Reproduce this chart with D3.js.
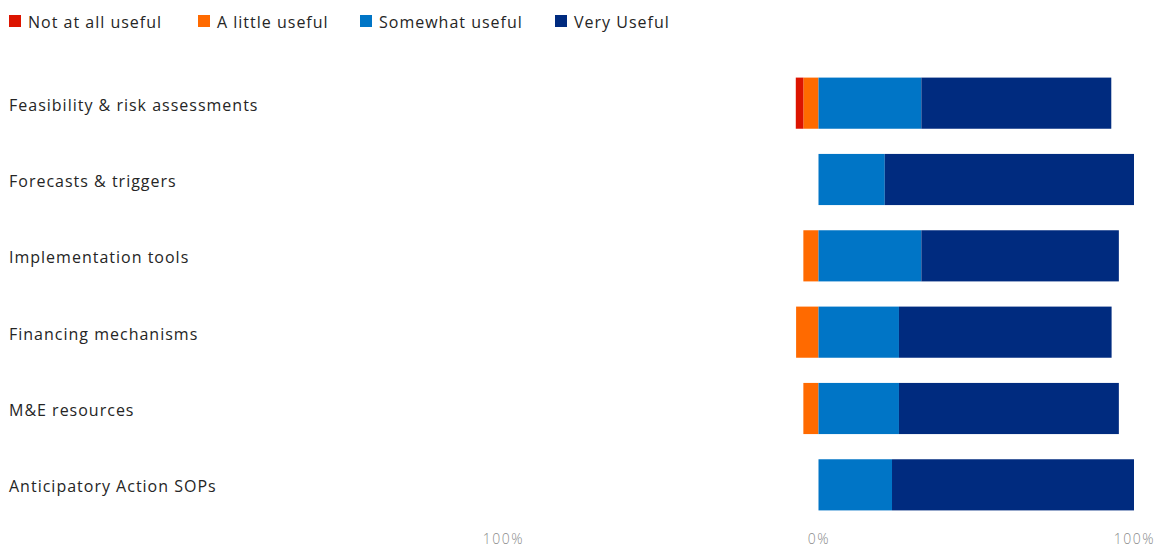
<!DOCTYPE html>
<html>
<head>
<meta charset="utf-8">
<script src="https://cdn.jsdelivr.net/npm/d3@7"></script>
<style>
  html, body { margin: 0; padding: 0; background: #fff; }
  svg { display: block; font-family: "Open Sans", "Noto Sans", sans-serif; }
</style>
</head>
<body>
<svg id="chart" width="1165" height="550"></svg>
<script>
// Survey: how useful each resource type is (share of respondents, %)
const categories = [
  "Feasibility & risk assessments",
  "Forecasts & triggers",
  "Implementation tools",
  "Financing mechanisms",
  "M&E resources",
  "Anticipatory Action SOPs"
];
const seriesNames = ["Not at all useful", "A little useful", "Somewhat useful", "Very Useful"];
const notAtAllUseful = [2.4, 0, 0, 0, 0, 0];
const aLittleUseful  = [4.8, 0, 4.8, 7.1, 4.8, 0];
const somewhatUseful = [32.6, 21.0, 32.6, 25.5, 25.5, 23.3];
const veryUseful     = [60.2, 79.0, 62.6, 67.4, 69.7, 76.7];
const tickValues = [-100, 0, 100];
const tickLabels = ["100%", "0%", "100%"];

const colors = ["#dc1400", "#ff6a00", "#0075c6", "#002b7f"];

const svg = d3.select("#chart");

const x = d3.scaleLinear().domain([-100, 100]).range([503, 1134]);
const y = d3.scaleBand().domain(categories).range([65, 523]).paddingInner(0.33).paddingOuter(0.165);

// Negative side stacks leftwards from zero, positive side rightwards
const rows = categories.map((c, i) => {
  const segs = [];
  let left = -aLittleUseful[i];
  segs.push({ key: 1, x0: left, x1: 0 });
  segs.push({ key: 0, x0: left - notAtAllUseful[i], x1: left });
  segs.push({ key: 2, x0: 0, x1: somewhatUseful[i] });
  segs.push({ key: 3, x0: somewhatUseful[i], x1: somewhatUseful[i] + veryUseful[i] });
  return { cat: c, segs: segs.filter(s => s.x1 - s.x0 > 0) };
});

const rowG = svg.append("g").selectAll("g").data(rows).join("g");
rowG.selectAll("rect")
  .data(d => d.segs.map(s => ({ ...s, cat: d.cat })))
  .join("rect")
  .attr("x", d => x(d.x0))
  .attr("y", d => y(d.cat))
  .attr("width", d => x(d.x1) - x(d.x0))
  .attr("height", y.bandwidth())
  .attr("fill", d => colors[d.key]);

// Category labels
svg.append("g").selectAll("text").data(categories).join("text")
  .attr("x", 9)
  .attr("y", d => y(d) + y.bandwidth() / 2 + 2)
  .attr("dy", "0.35em")
  .attr("font-size", 16)
  .attr("letter-spacing", 1)
  .attr("fill", "#252525")
  .text(d => d);

// Bottom axis labels
const axis = d3.axisBottom(x).tickValues(tickValues)
  .tickFormat((d, i) => tickLabels[i]).tickSize(0).tickPadding(0);
const axisG = svg.append("g").attr("transform", "translate(0,534)").call(axis);
axisG.select(".domain").remove();
axisG.selectAll("text")
  .attr("font-family", "\"Open Sans\", \"Noto Sans\", sans-serif")
  .attr("font-size", 14)
  .attr("font-weight", 300)
  .attr("letter-spacing", 1.5)
  .attr("fill", "#8a8a8a");

// Legend
const legendX = [9, 198, 360, 555];
const lg = svg.append("g").selectAll("g").data(seriesNames).join("g")
  .attr("transform", (d, i) => `translate(${legendX[i]},15)`);
lg.append("rect").attr("width", 12).attr("height", 12).attr("fill", (d, i) => colors[i]);
lg.append("text").attr("x", 19).attr("y", 7).attr("dy", "0.35em")
  .attr("font-size", 16).attr("letter-spacing", 1).attr("fill", "#252525").text(d => d);
</script>
</body>
</html>
